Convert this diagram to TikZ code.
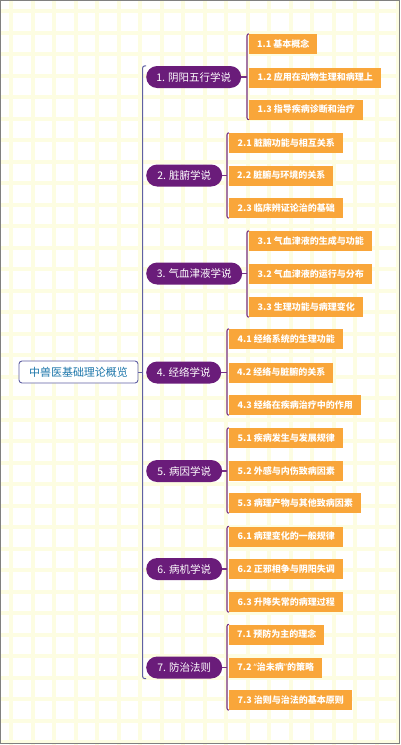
\documentclass[tikz,border=0pt]{standalone}
\usepackage{fontspec}
\setmainfont{Noto Sans CJK SC}
\newfontfamily\latinq{Noto Sans}
\usetikzlibrary{calc}
\definecolor{mainpurple}{RGB}{106,28,122}
\definecolor{suborange}{RGB}{249,166,58}
\definecolor{brpurple}{RGB}{118,48,132}
\definecolor{trunkblue}{RGB}{96,96,162}
\definecolor{roottext}{RGB}{28,118,170}
\definecolor{gridcol}{RGB}{253,253,226}
\definecolor{framegray}{RGB}{128,128,128}
\tikzset{
  gridline/.style={draw=gridcol, line width=4pt},
  mainnode/.style={fill=mainpurple, text=white, rounded corners=11pt, minimum height=22pt, inner sep=0pt, anchor=west, font=\fontsize{10.5}{12}\selectfont},
  subnode/.style={fill=suborange, text=white, minimum height=20pt, inner sep=0pt, anchor=west, font=\fontsize{9}{10}\selectfont\bfseries},
  rootnode/.style={draw=trunkblue, fill=white, text=roottext, rounded corners=3pt, minimum height=22pt, minimum width=119pt, inner sep=0pt, line width=0.9pt, font=\fontsize{11}{12}\selectfont},
  subbr/.style={draw=brpurple, line width=1.1pt, rounded corners=2pt},
  trunkline/.style={draw=trunkblue, line width=1pt, rounded corners=2.5pt}
}
\begin{document}
\begin{tikzpicture}[x=1pt,y=-1pt]
\useasboundingbox (0,0) rectangle (400,745);
\fill[white] (0,0) rectangle (400,745);
\foreach \g in {11,32.5,...,400} \draw[gridline] (\g,0) -- (\g,745);
\foreach \g in {11,32.5,...,745} \draw[gridline] (0,\g) -- (400,\g);
\draw[framegray, line width=1pt] (0.5,0.5) rectangle (399.5,743.5);

% root
\node[rootnode] (root) at (78.5,372) {中兽医基础理论概览};

% main nodes
\node[mainnode, minimum width=95pt] (m1) at (146,77) {1. 阴阳五行学说};
\node[mainnode, minimum width=76pt] (m2) at (146,175.5) {2. 脏腑学说};
\node[mainnode, minimum width=96pt] (m3) at (146,273.5) {3. 气血津液学说};
\node[mainnode, minimum width=75pt] (m4) at (146,372.5) {4. 经络学说};
\node[mainnode, minimum width=76pt] (m5) at (146,471) {5. 病因学说};
\node[mainnode, minimum width=76pt] (m6) at (146,569) {6. 病机学说};
\node[mainnode, minimum width=76pt] (m7) at (146,667.5) {7. 防治法则};

% group 1
\node[subnode, minimum width=68pt] (c11) at (249,44) {1.1 基本概念};
\node[subnode, minimum width=132pt] (c12) at (249,77.5) {1.2 应用在动物生理和病理上};
\node[subnode, minimum width=114pt] (c13) at (249,109.5) {1.3 指导疾病诊断和治疗};
% group 2
\node[subnode, minimum width=114pt] (c21) at (229,143) {2.1 脏腑功能与相互关系};
\node[subnode, minimum width=104pt] (c22) at (229,175.5) {2.2 脏腑与环境的关系};
\node[subnode, minimum width=114pt] (c23) at (229,208) {2.3 临床辨证论治的基础};
% group 3
\node[subnode, minimum width=123pt] (c31) at (249,241) {3.1 气血津液的生成与功能};
\node[subnode, minimum width=123pt] (c32) at (249,274) {3.2 气血津液的运行与分布};
\node[subnode, minimum width=114pt] (c33) at (249,307) {3.3 生理功能与病理变化};
% group 4
\node[subnode, minimum width=114pt] (c41) at (229,339) {4.1 经络系统的生理功能};
\node[subnode, minimum width=104pt] (c42) at (229,372.5) {4.2 经络与脏腑的关系};
\node[subnode, minimum width=132pt] (c43) at (229,405) {4.3 经络在疾病治疗中的作用};
% group 5
\node[subnode, minimum width=114pt] (c51) at (229,438) {5.1 疾病发生与发展规律};
\node[subnode, minimum width=114pt] (c52) at (229,471) {5.2 外感与内伤致病因素};
\node[subnode, minimum width=132pt] (c53) at (229,503) {5.3 病理产物与其他致病因素};
% group 6
\node[subnode, minimum width=114pt] (c61) at (229,536.5) {6.1 病理变化的一般规律};
\node[subnode, minimum width=114pt] (c62) at (229,569) {6.2 正邪相争与阴阳失调};
\node[subnode, minimum width=114pt] (c63) at (229,602) {6.3 升降失常的病理过程};
% group 7
\node[subnode, minimum width=95pt] (c71) at (229,634.5) {7.1 预防为主的理念};
\node[subnode, minimum width=93pt] (c72) at (229,667.5) {7.2 {\latinq “}治未病{\latinq ”}的策略};
\node[subnode, minimum width=123pt] (c73) at (229,700) {7.3 治则与治法的基本原则};

% trunk
\coordinate (rt) at (142.5,372);
\draw[trunkline] (root.east) -- (rt);
\draw[trunkline] (m1.north west) -- ++(-3.5,0) |- (m7.south west);

% sub brackets
\foreach \i in {1,...,7}{
  \draw[subbr] (c\i1.north west) -- ++(-2,0) |- (c\i3.south west);
  \coordinate (j\i) at ($(c\i2.west)+(-2,0)$);
  \draw[subbr] (m\i.east) -- (m\i.east -| j\i);
}
\end{tikzpicture}
\end{document}
